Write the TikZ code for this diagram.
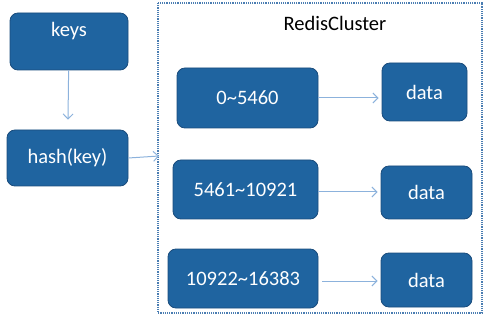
\documentclass[tikz,border=0pt]{standalone}
\usepackage{xcolor}
\usepackage{fontspec}
\setmainfont{Carlito}
\usepackage{tikz}
\usetikzlibrary{positioning, arrows.meta}

\definecolor{slotblue}{HTML}{1F64A0}
\definecolor{slotedge}{HTML}{1A4C7C}
\definecolor{linkblue}{HTML}{8CB2DC}
\definecolor{dotblue}{HTML}{4A7DB2}

\tikzset{
	slot/.style={draw=slotedge, fill=slotblue, line width=0.8pt, rounded corners=8pt,
		text=white, font=\fontsize{20.5}{24}\selectfont, inner sep=0pt},
	link/.style={draw=linkblue, line width=1pt, -{Straight Barb[length=5pt,width=10pt]}}
}

\begin{document}
\begin{tikzpicture}[x=1pt, y=-1pt]
			\useasboundingbox (0,0) rectangle (499,321);
			
			% client side
			\node[slot, minimum width=118pt, minimum height=57pt] (keys) at (69,41.5) {\raisebox{10pt}[\height][\depth]{keys}};
			\node[slot, minimum width=121pt, minimum height=56pt] (hash) at (67.5,158) {hash(key)};
			
			% the cluster frame
			\draw[dotblue, densely dotted, line width=1.2pt] (158,3) rectangle (482,313);
			\node[font=\fontsize{20.5}{24}\selectfont] (title) at (335,23) {RedisCluster};
			\coordinate (entry) at (159,156);
			
			% slot ranges and their data
			\node[slot, minimum width=141pt, minimum height=60pt] (r1) at (247.5,98) {0\textasciitilde5460};
			\node[slot, minimum width=145pt, minimum height=59pt] (r2) at (245.5,189.5) {5461\textasciitilde10921};
			\node[slot, minimum width=150pt, minimum height=59pt] (r3) at (243,278.5) {10922\textasciitilde16383};
			\node[slot, minimum width=85pt, minimum height=58pt] (d1) at (424.5,92) {data};
			\node[slot, minimum width=91pt, minimum height=53pt] (d2) at (426.5,192.5) {data};
			\node[slot, minimum width=91pt, minimum height=54pt] (d3) at (426.5,280) {data};
			
			\draw[link, shorten >=10pt] (keys) -- (hash);
			\draw[link] (hash.east) -- (entry);
			\draw[link, shorten >=3pt] (r1.east) -- (r1.east -| d1.west);
			\draw[link, shorten >=3pt] ([yshift=-2.5pt]r2.east) -- ([yshift=-2.5pt]r2.east -| d2.west);
			\draw[link, shorten <=4pt, shorten >=3pt] ([yshift=-2.5pt]r3.east) -- ([yshift=-2.5pt]r3.east -| d3.west);
			\end{tikzpicture}
\end{document}
